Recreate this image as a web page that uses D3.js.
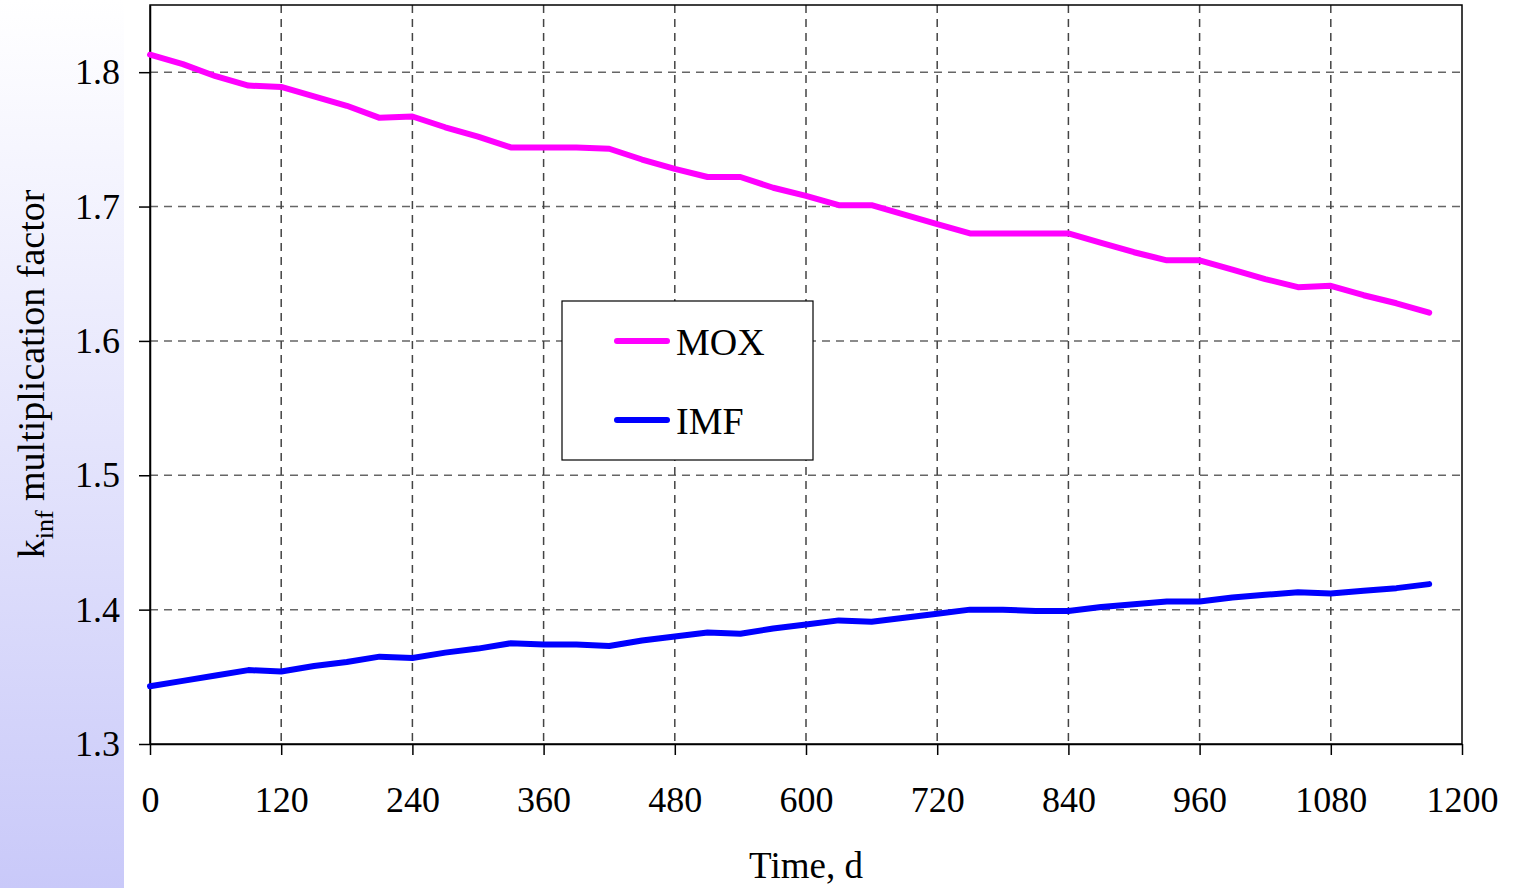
<!DOCTYPE html>
<html>
<meta charset="UTF-8">
<head>
  <script src="https://cdn.jsdelivr.net/npm/d3@7"></script>
  <style>
    body { margin: 0; background: #fff; }
    text { font-family: "Liberation Serif", "Times New Roman", serif; fill: #000; }
  </style>
</head>
<body>
  <svg id="chart" width="1514" height="888"></svg>

  <script type="text/javascript">
    // time, days (every 30 d)
    const days = [0, 30, 60, 90, 120, 150, 180, 210, 240, 270, 300, 330, 360, 390, 420,
      450, 480, 510, 540, 570, 600, 630, 660, 690, 720, 750, 780, 810, 840,
      870, 900, 930, 960, 990, 1020, 1050, 1080, 1110, 1140, 1170]

    const mox = [1.813, 1.806, 1.797, 1.790, 1.789, 1.782, 1.775, 1.766, 1.767, 1.759, 1.752, 1.744,
      1.744, 1.744, 1.743, 1.735, 1.728, 1.722, 1.722, 1.714, 1.708, 1.701, 1.701, 1.694, 1.687,
      1.680, 1.680, 1.680, 1.680, 1.673, 1.666, 1.660, 1.660, 1.653, 1.646, 1.640, 1.641, 1.634,
      1.628, 1.621]

    const imf = [1.343, 1.347, 1.351, 1.355, 1.354, 1.358, 1.361, 1.365, 1.364, 1.368, 1.371, 1.375,
      1.374, 1.374, 1.373, 1.377, 1.380, 1.383, 1.382, 1.386, 1.389, 1.392, 1.391, 1.394, 1.397,
      1.400, 1.400, 1.399, 1.399, 1.402, 1.404, 1.406, 1.406, 1.409, 1.411, 1.413, 1.412, 1.414,
      1.416, 1.419]

    const xTicks = [0, 120, 240, 360, 480, 600, 720, 840, 960, 1080, 1200]
    const yTicks = [1.3, 1.4, 1.5, 1.6, 1.7, 1.8]

    const series = [
      { name: "MOX", values: mox, color: "#ff00ff" },
      { name: "IMF", values: imf, color: "#0000ff" }
    ]

    const svg = d3.select("#chart")

    // left side gradient panel
    const grad = svg.append("defs").append("linearGradient")
      .attr("id", "sideGrad").attr("x1", 0).attr("y1", 0).attr("x2", 0).attr("y2", 1)
    grad.append("stop").attr("offset", "0%").attr("stop-color", "#ffffff")
    grad.append("stop").attr("offset", "100%").attr("stop-color", "#c9c9f9")
    svg.append("rect").attr("x", 0).attr("y", 0).attr("width", 124).attr("height", 888)
      .attr("fill", "url(#sideGrad)")

    const pLeft = 150, pRight = 1462, pTop = 5, pBottom = 744

    const x = d3.scaleLinear().domain([0, 1200]).range([pLeft, pRight])
    const y = d3.scaleLinear().domain([1.3, 1.85]).range([pBottom, pTop])

    svg.append("rect").attr("x", pLeft).attr("y", pTop)
      .attr("width", pRight - pLeft).attr("height", pBottom - pTop).attr("fill", "#fff")

    // grid
    svg.append("g").selectAll("line")
      .data(yTicks.slice(1))
      .enter().append("line")
      .attr("x1", pLeft).attr("x2", pRight)
      .attr("y1", d => y(d)).attr("y2", d => y(d))
      .style("stroke", "#666").style("stroke-width", 1.5).style("stroke-dasharray", "8,6")

    svg.append("g").selectAll("line")
      .data(xTicks.slice(1, -1))
      .enter().append("line")
      .attr("x1", d => x(d)).attr("x2", d => x(d))
      .attr("y1", pTop).attr("y2", pBottom)
      .style("stroke", "#444").style("stroke-width", 1.5).style("stroke-dasharray", "8,6")

    // frame
    svg.append("rect").attr("x", pLeft).attr("y", pTop)
      .attr("width", pRight - pLeft).attr("height", pBottom - pTop)
      .attr("fill", "none").style("stroke", "#000").style("stroke-width", 1.5)

    // axes
    const xAxis = svg.append("g")
      .attr("transform", `translate(0,${pBottom})`)
      .call(d3.axisBottom(x).tickValues(xTicks).tickSize(11).tickSizeOuter(0).tickPadding(31)
        .tickFormat(d3.format("d")))
    const yAxis = svg.append("g")
      .attr("transform", `translate(${pLeft},0)`)
      .call(d3.axisLeft(y).tickValues(yTicks).tickSize(11).tickSizeOuter(0).tickPadding(19)
        .tickFormat(d3.format(".1f")))

    for (const ax of [xAxis, yAxis]) {
      ax.select(".domain").style("stroke", "#000").style("stroke-width", 1.5)
      ax.selectAll(".tick line").style("stroke", "#000").style("stroke-width", 1.5)
      ax.selectAll(".tick text")
        .style("font-family", '"Liberation Serif", serif')
        .style("font-size", "36px").style("fill", "#000")
    }

    // lines
    const line = d3.line()
      .x((d, i) => x(days[i]))
      .y(d => y(d))

    svg.append("g").selectAll("path")
      .data(series)
      .enter().append("path")
      .attr("d", d => line(d.values))
      .attr("fill", "none")
      .style("stroke", d => d.color)
      .style("stroke-width", 6)
      .style("stroke-linejoin", "round")
      .style("stroke-linecap", "round")

    // legend
    const legend = svg.append("g").attr("transform", "translate(562,301)")
    legend.append("rect").attr("width", 251).attr("height", 159)
      .attr("fill", "#fff").style("stroke", "#000").style("stroke-width", 1.2)

    const items = legend.selectAll("g.item")
      .data(series)
      .enter().append("g")
      .attr("class", "item")
      .attr("transform", (d, i) => `translate(0,${40 + i * 79})`)
    items.append("line")
      .attr("x1", 55).attr("x2", 105)
      .style("stroke", d => d.color).style("stroke-width", 6).style("stroke-linecap", "round")
    items.append("text")
      .attr("x", 114).attr("y", 14)
      .style("font-size", "38px")
      .text(d => d.name)

    // axis titles
    svg.append("text")
      .attr("x", 806).attr("y", 878)
      .attr("text-anchor", "middle")
      .style("font-size", "37px")
      .text("Time, d")

    const yTitle = svg.append("text")
      .attr("transform", "translate(44,374) rotate(-90)")
      .attr("text-anchor", "middle")
      .style("font-size", "38px")
    yTitle.append("tspan").text("k")
    yTitle.append("tspan").attr("dy", 9).style("font-size", "26px").text("inf")
    yTitle.append("tspan").attr("dy", -9).text(" multiplication factor")
  </script>
</body>
</html>
